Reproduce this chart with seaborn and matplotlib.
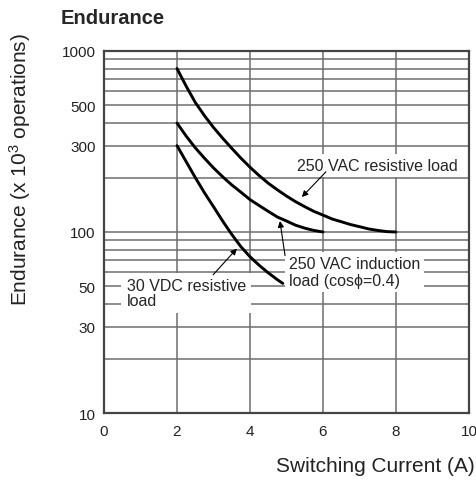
import matplotlib
matplotlib.use("Agg")
import matplotlib.pyplot as plt
import seaborn as sns
import pandas as pd

# ---- data ----
vac_res_x = [2.0, 2.25, 2.5, 2.75, 3.0, 3.25, 3.5, 3.75, 4.0, 4.25, 4.5, 4.75, 5.0,
             5.25, 5.5, 5.75, 6.0, 6.25, 6.5, 6.75, 7.0, 7.25, 7.5, 7.75, 8.0]
vac_res_y = [800, 640, 520, 440, 378, 330, 290, 256, 228, 205, 186, 171, 158,
             147, 138, 130, 124, 118, 114, 110, 107, 104, 102, 100.5, 100]

vac_ind_x = [2.0, 2.25, 2.5, 2.75, 3.0, 3.25, 3.5, 3.75, 4.0, 4.25, 4.5, 4.75, 5.0,
             5.25, 5.5, 5.75, 6.0]
vac_ind_y = [400, 339, 292, 256, 226, 202, 182, 166, 151, 140, 130, 121, 115,
             109, 105, 102, 100]

vdc_res_x = [2.0, 2.25, 2.5, 2.75, 3.0, 3.25, 3.5, 3.75, 4.0, 4.25, 4.5, 4.75, 4.9]
vdc_res_y = [300, 245, 200, 165, 138, 115, 97, 83, 73, 65.5, 59.5, 54.5, 52]

series_names = ["250 VAC resistive load", "250 VAC induction load", "30 VDC resistive load"]

y_major = [10, 30, 50, 100, 300, 500, 1000]
y_minor = [20, 40, 60, 70, 80, 90, 200, 400, 600, 700, 800, 900]
x_ticks = [0, 2, 4, 6, 8, 10]

df = pd.concat([
    pd.DataFrame({"current": vac_res_x, "endurance": vac_res_y, "load": series_names[0]}),
    pd.DataFrame({"current": vac_ind_x, "endurance": vac_ind_y, "load": series_names[1]}),
    pd.DataFrame({"current": vdc_res_x, "endurance": vdc_res_y, "load": series_names[2]}),
])

sns.set_style("white")
plt.rcParams["font.family"] = ["Liberation Sans", "DejaVu Sans"]
plt.rcParams["mathtext.fontset"] = "custom"
plt.rcParams["mathtext.rm"] = "Liberation Sans"
plt.rcParams["mathtext.it"] = "Liberation Sans:italic"

fig = plt.figure(figsize=(4.77, 4.81), dpi=100)
ax = fig.add_axes([104/477, 1-414/481, (469-104)/477, (414-52)/481])

sns.lineplot(data=df, x="current", y="endurance", hue="load",
             palette=["black"]*3, legend=False, sort=False, estimator=None,
             linewidth=2.1, ax=ax, zorder=5)
for ln in ax.get_lines():
    ln.set_solid_joinstyle("round")
    ln.set_solid_capstyle("round")

ax.set_yscale("log")
ax.set_xlim(0, 10)
ax.set_ylim(10, 1000)
ax.set_xticks(x_ticks)
ax.set_xticklabels([str(v) for v in x_ticks])
ax.set_yticks(y_major)
ax.set_yticklabels([str(v) for v in y_major])
ax.set_yticks(y_minor, minor=True)
ax.yaxis.set_minor_formatter(matplotlib.ticker.NullFormatter())
ax.grid(True, which="both", color="#6e6e6e", linewidth=1.1)
ax.tick_params(axis="both", which="both", length=0, labelsize=11, colors="#222222")
ax.tick_params(axis="y", pad=6)
ax.tick_params(axis="x", pad=8)
for s in ax.spines.values():
    s.set_color("#444444")
    s.set_linewidth(1.6)
ax.set_xlabel("")
ax.set_ylabel("")

box = dict(facecolor="white", edgecolor="none", pad=3)
arrow = dict(arrowstyle="-|>", color="black", lw=0.8, mutation_scale=9, shrinkA=0, shrinkB=0)

ax.text(5.3, 234, "250 VAC resistive load", fontsize=11.5, va="center", ha="left",
        bbox=box, zorder=6)
ax.annotate("", xy=(5.42, 156), xytext=(6.08, 215), arrowprops=arrow, zorder=7)

ax.text(5.07, 60, "250 VAC induction\nload (cos\u03d5=0.4)", fontsize=11.5, va="center", ha="left",
        bbox=box, zorder=6, linespacing=1.15)
ax.annotate("", xy=(4.82, 115), xytext=(4.96, 74), arrowprops=arrow, zorder=7)

ax.text(0.62, 46, "30 VDC resistive\nload", fontsize=11.5, va="center", ha="left",
        bbox=dict(facecolor="white", edgecolor="none", pad=4), zorder=6, linespacing=0.95)
ax.annotate("", xy=(3.64, 81), xytext=(2.99, 58), arrowprops=arrow, zorder=7)

fig.text(61/477, 1-19/481, "Endurance", fontsize=14.5, fontweight="bold", ha="left", va="center")
fig.text(20/477, 1-170/481, "Endurance (x 10$^3$ operations)", fontsize=15, rotation=90,
         ha="center", va="center", color="#222222")
fig.text(475/477, 1-467/481, "Switching Current (A)", fontsize=15, ha="right", va="center",
         color="#222222")

fig.savefig("out.png", dpi=100)
